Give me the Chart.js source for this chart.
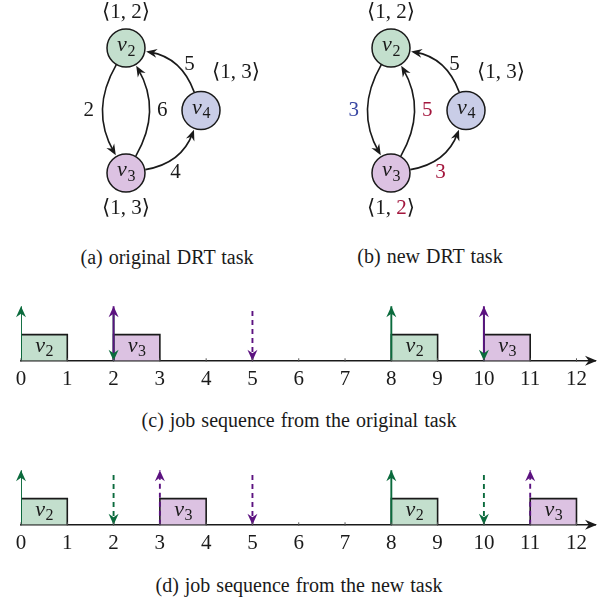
<!DOCTYPE html>
<html>
<head>
<meta charset="utf-8">
<script src="https://cdn.jsdelivr.net/npm/chart.js@4.4.0/dist/chart.umd.min.js"></script>
<style>
body { margin: 0; background: #fff; }
#wrap { position: relative; width: 602px; height: 600px; }
canvas { position: absolute; }
.cap { position: absolute; width: 400px; text-align: center; white-space: nowrap;
       font-family: "Liberation Serif", "Times New Roman", Times, "DejaVu Serif", serif;
       font-size: 20px; line-height: 22px; word-spacing: 1px; color: #1a1a1a; }
</style>
</head>
<body>
<div id="wrap">
  <canvas id="graphA" width="265" height="235" style="left:0;top:0"></canvas>
  <canvas id="graphB" width="265" height="235" style="left:265px;top:0"></canvas>
  <div class="cap" style="left:-33px;top:246px">(a) original DRT task</div>
  <div class="cap" style="left:230px;top:245px">(b) new DRT task</div>
  <canvas id="seqC" width="602" height="108" style="left:0;top:290px"></canvas>
  <div class="cap" style="left:99px;top:409px">(c) job sequence from the original task</div>
  <canvas id="seqD" width="602" height="108" style="left:0;top:454px"></canvas>
  <div class="cap" style="left:99px;top:574px">(d) job sequence from the new task</div>
</div>
<script>
// ---- DRT graph (same shape for both tasks) ----
const nodeNames = ['v2', 'v3', 'v4'];
const nodeX = [0, 0, 1.2];
const nodeY = [2, 0, 1];
const edgeFrom = [0, 1, 2, 1];   // v2->v3, v3->v2, v4->v2, v3->v4
const edgeTo = [1, 0, 0, 2];

// original task: <wcet, deadline> per vertex, separation per edge
const paramsA = [['1', '2'], ['1', '3'], ['1', '3']];
const edgeLabelsA = ['2', '6', '5', '4'];

// new task
const paramsB = [['1', '2'], ['1', '2'], ['1', '3']];
const edgeLabelsB = ['3', '5', '5', '3'];

// ---- job sequences ----
const tickValues = [0, 1, 2, 3, 4, 5, 6, 7, 8, 9, 10, 11, 12];
const wcet = 1;

const jobTaskC = ['v2', 'v3', 'v2', 'v3'];
const jobReleaseC = [0, 2, 8, 10];
const releaseDashedC = [false, false, false, false];
const deadlineC = [2, 5, 10];
const deadlineTaskC = ['v2', 'v3', 'v2'];
const deadlineDashedC = [false, true, false];

const jobTaskD = ['v2', 'v3', 'v2', 'v3'];
const jobReleaseD = [0, 3, 8, 11];
const releaseDashedD = [false, true, false, true];
const deadlineD = [2, 5, 10];
const deadlineTaskD = ['v2', 'v3', 'v2'];
const deadlineDashedD = [true, true, true];

// ---- styles ----
const SERIF = '"Liberation Serif", "Times New Roman", Times, "DejaVu Serif", serif';
const INK = '#1a1a1a';
const RED = '#a3153c';
const BLUE = '#3947a3';
const FILL = { v2: '#c3dfcd', v3: '#dcc2e2', v4: '#c9cde7' };
const DARK = { v2: '#0b6b3d', v3: '#5c1280' };
const NODE_R = 19;
const edgeLabelShift = [[-14, 0], [13, 0], [13.5, 0], [0, 16]];
const paramShift = [[0, -36], [0, 35], [35, -38]];

function arrowHead(ctx, x, y, ang, len, wid, color) {
  ctx.save();
  ctx.translate(x, y);
  ctx.rotate(ang);
  ctx.beginPath();
  ctx.moveTo(0, 0);
  ctx.lineTo(-len, -wid / 2);
  ctx.lineTo(-len * 0.68, 0);
  ctx.lineTo(-len, wid / 2);
  ctx.closePath();
  ctx.fillStyle = color;
  ctx.fill();
  ctx.restore();
}

// italic variable with subscript, e.g. v2
function drawVar(ctx, name, cx, cy, size, color) {
  const base = name.charAt(0), sub = name.slice(1);
  const fBase = 'italic ' + size + 'px ' + SERIF;
  const fSub = Math.round(size * 0.72) + 'px ' + SERIF;
  ctx.font = fBase;
  const w1 = ctx.measureText(base).width;
  ctx.font = fSub;
  const w2 = ctx.measureText(sub).width;
  const x0 = cx - (w1 + w2) / 2;
  const base_y = cy + size * 0.2;
  ctx.fillStyle = color || INK;
  ctx.textAlign = 'left';
  ctx.textBaseline = 'alphabetic';
  ctx.font = fBase;
  ctx.fillText(base, x0, base_y);
  ctx.font = fSub;
  ctx.fillText(sub, x0 + w1 + 0.5, base_y + size * 0.2);
}

// text made of coloured pieces, centred on (cx, cy)
function drawParts(ctx, parts, cx, cy, size) {
  ctx.font = size + 'px ' + SERIF;
  ctx.textAlign = 'left';
  ctx.textBaseline = 'middle';
  let total = 0;
  parts.forEach(p => total += ctx.measureText(p[0]).width);
  let x = cx - total / 2;
  parts.forEach(p => {
    ctx.fillStyle = p[1];
    ctx.fillText(p[0], x, cy);
    x += ctx.measureText(p[0]).width;
  });
}

function drawEdge(ctx, a, b, bend) {
  const r = NODE_R + 0.6;
  const phi = Math.atan2(b.y - a.y, b.x - a.x);
  const outA = phi + bend, inB = phi + Math.PI - bend;
  const p0 = { x: a.x + r * Math.cos(outA), y: a.y + r * Math.sin(outA) };
  const tip = { x: b.x + (r + 0.8) * Math.cos(inB), y: b.y + (r + 0.8) * Math.sin(inB) };
  const c = 0.3915 * Math.hypot(tip.x - p0.x, tip.y - p0.y);
  const p1 = { x: p0.x + c * Math.cos(outA), y: p0.y + c * Math.sin(outA) };
  const p2 = { x: tip.x + c * Math.cos(inB), y: tip.y + c * Math.sin(inB) };
  const p3 = { x: tip.x + 4 * Math.cos(inB), y: tip.y + 4 * Math.sin(inB) };
  ctx.strokeStyle = INK;
  ctx.lineWidth = 1.6;
  ctx.beginPath();
  ctx.moveTo(p0.x, p0.y);
  ctx.bezierCurveTo(p1.x, p1.y, p2.x, p2.y, p3.x, p3.y);
  ctx.stroke();
  arrowHead(ctx, tip.x, tip.y, inB + Math.PI, 11, 9, INK);
  return {
    x: 0.125 * (p0.x + tip.x) + 0.375 * (p1.x + p2.x),
    y: 0.125 * (p0.y + tip.y) + 0.375 * (p1.y + p2.y)
  };
}

function makeGraph(id, params, paramColors, edgeLabels, edgeColors) {
  const graphPlugin = {
    id: 'drt',
    beforeDatasetsDraw(chart) {
      const ctx = chart.ctx, xs = chart.scales.x, ys = chart.scales.y;
      const pos = nodeNames.map((n, i) => ({ x: xs.getPixelForValue(nodeX[i]), y: ys.getPixelForValue(nodeY[i]) }));
      ctx.save();
      edgeFrom.forEach((f, i) => {
        const mid = drawEdge(ctx, pos[f], pos[edgeTo[i]], Math.PI / 6);
        drawParts(ctx, [[edgeLabels[i], edgeColors[i]]], mid.x + edgeLabelShift[i][0], mid.y + edgeLabelShift[i][1], 21);
      });
      ctx.restore();
    },
    afterDatasetsDraw(chart) {
      const ctx = chart.ctx, xs = chart.scales.x, ys = chart.scales.y;
      ctx.save();
      nodeNames.forEach((n, i) => {
        const x = xs.getPixelForValue(nodeX[i]), y = ys.getPixelForValue(nodeY[i]);
        drawVar(ctx, n, x, y - 1, 22);
        drawParts(ctx, [['\u27E81, ', INK], [params[i][1], paramColors[i]], ['\u27E9', INK]],
          x + paramShift[i][0], y + paramShift[i][1], 21);
      });
      ctx.restore();
    }
  };
  return new Chart(document.getElementById(id), {
    type: 'scatter',
    data: {
      datasets: [{
        data: nodeNames.map((n, i) => ({ x: nodeX[i], y: nodeY[i] })),
        pointRadius: NODE_R,
        pointHoverRadius: NODE_R,
        pointBackgroundColor: nodeNames.map(n => FILL[n]),
        pointBorderColor: INK,
        pointBorderWidth: 1.5,
        clip: false
      }]
    },
    options: {
      responsive: false,
      animation: false,
      events: [],
      layout: { padding: 0, autoPadding: false },
      scales: {
        x: { type: 'linear', display: false, min: -2.016, max: 2.224 },
        y: { type: 'linear', display: false, min: -0.992, max: 2.768 }
      },
      plugins: { legend: { display: false }, tooltip: { enabled: false } }
    },
    plugins: [graphPlugin]
  });
}

function makeSequence(id, jobTask, jobRelease, releaseDashed, deadline, deadlineTask, deadlineDashed) {
  const datasets = [];
  jobRelease.forEach((t, i) => datasets.push({
    data: [{ x: t, y: 0 }, { x: t, y: 1 }, { x: t + wcet, y: 1 }, { x: t + wcet, y: 0 }],
    fill: 'origin',
    backgroundColor: FILL[jobTask[i]],
    borderColor: INK,
    borderWidth: 1.6,
    order: 3
  }));
  deadline.forEach((t, i) => datasets.push({
    data: [{ x: t, y: 1.9 }, { x: t, y: 0 }],
    borderColor: DARK[deadlineTask[i]],
    borderDash: deadlineDashed[i] ? [5, 4] : [],
    borderWidth: 1.9,
    order: 2,
    arrow: true
  }));
  jobRelease.forEach((t, i) => datasets.push({
    data: [{ x: t, y: 0 }, { x: t, y: 2.08 }],
    borderColor: DARK[jobTask[i]],
    borderDash: releaseDashed[i] ? [5, 4] : [],
    borderWidth: 1.9,
    order: 1,
    arrow: true
  }));

  const seqPlugin = {
    id: 'seq',
    afterDatasetsDraw(chart) {
      const ctx = chart.ctx, xs = chart.scales.x, ys = chart.scales.y;
      ctx.save();
      // task names inside the job boxes
      jobRelease.forEach((t, i) => {
        drawVar(ctx, jobTask[i], xs.getPixelForValue(t + wcet / 2), ys.getPixelForValue(0.5), 22);
      });
      // arrow heads on release / deadline arrows
      chart.data.datasets.forEach((ds, i) => {
        if (!ds.arrow) return;
        const pts = chart.getDatasetMeta(i).data;
        const a = pts[pts.length - 2], b = pts[pts.length - 1];
        arrowHead(ctx, b.x, b.y, Math.atan2(b.y - a.y, b.x - a.x), 11, 10, ds.borderColor);
      });
      // small tick marks and the arrow at the end of the time axis
      const y0 = ys.getPixelForValue(0);
      ctx.strokeStyle = '#555';
      ctx.lineWidth = 1;
      xs.ticks.forEach(tk => {
        const x = xs.getPixelForValue(tk.value);
        ctx.beginPath();
        ctx.moveTo(x, y0 - 2.5);
        ctx.lineTo(x, y0 + 1);
        ctx.stroke();
      });
      arrowHead(ctx, xs.right + 2, y0, 0, 12, 10, INK);
      ctx.restore();
    }
  };

  return new Chart(document.getElementById(id), {
    type: 'line',
    data: { datasets: datasets },
    options: {
      responsive: false,
      animation: false,
      events: [],
      layout: { padding: { left: 21, right: 7, top: 0, bottom: 0 }, autoPadding: false },
      elements: { point: { radius: 0, hoverRadius: 0 }, line: { tension: 0 } },
      scales: {
        x: {
          type: 'linear', min: 0, max: 12.4,
          afterBuildTicks: s => { s.ticks = tickValues.map(v => ({ value: v })); },
          ticks: { font: { family: SERIF, size: 21 }, color: INK, padding: 6, autoSkip: false, maxRotation: 0 },
          grid: { display: false, drawTicks: false },
          border: { display: true, color: INK, width: 1.6 }
        },
        y: { type: 'linear', display: false, min: 0, max: 2.7 }
      },
      plugins: { legend: { display: false }, tooltip: { enabled: false } }
    },
    plugins: [seqPlugin]
  });
}

makeGraph('graphA', paramsA, [INK, INK, INK], edgeLabelsA, [INK, INK, INK, INK]);
makeGraph('graphB', paramsB, [INK, RED, INK], edgeLabelsB, [BLUE, RED, INK, RED]);
makeSequence('seqC', jobTaskC, jobReleaseC, releaseDashedC, deadlineC, deadlineTaskC, deadlineDashedC);
makeSequence('seqD', jobTaskD, jobReleaseD, releaseDashedD, deadlineD, deadlineTaskD, deadlineDashedD);
</script>
</body>
</html>
